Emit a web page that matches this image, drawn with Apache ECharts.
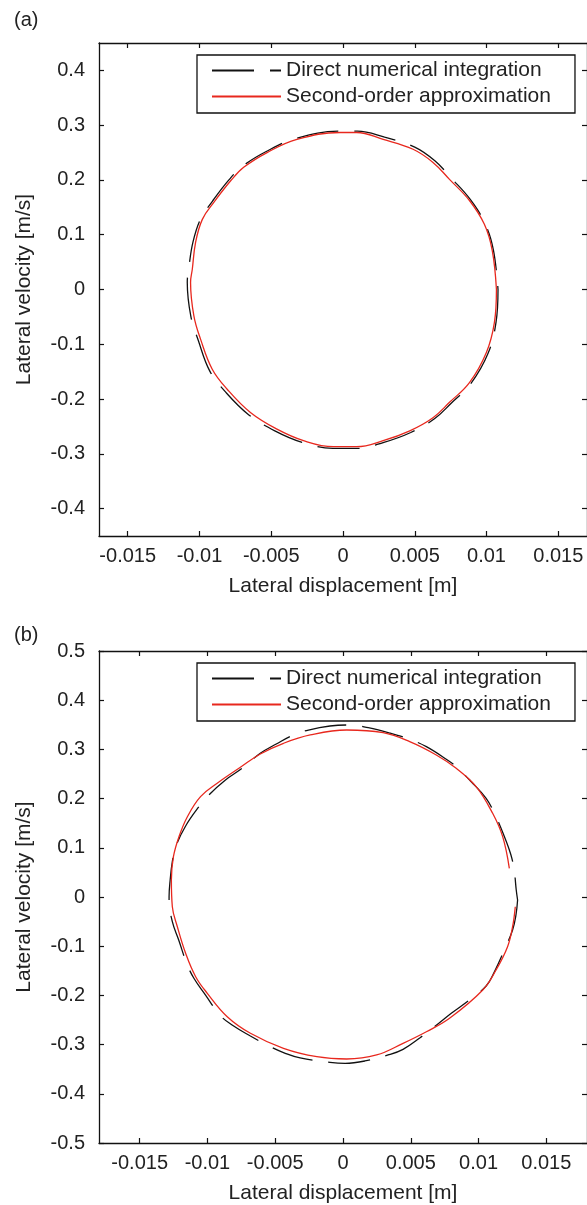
<!DOCTYPE html>
<html>
<head>
<meta charset="utf-8">
<script src="https://cdn.jsdelivr.net/npm/echarts@6/dist/echarts.min.js"></script>
<style>
html,body{margin:0;padding:0;background:#fff;}
#c{width:587px;height:1205px;}
</style>
</head>
<body>
<div id="c"></div>
<script>
// ---------- data ----------
var seriesNames = ['Direct numerical integration', 'Second-order approximation'];
var panelLabels = ['(a)', '(b)'];
var xAxisName = 'Lateral displacement [m]';
var yAxisName = 'Lateral velocity [m/s]';

var xTicksA = [-0.015, -0.01, -0.005, 0, 0.005, 0.01, 0.015];
var yTicksA = [-0.4, -0.3, -0.2, -0.1, 0, 0.1, 0.2, 0.3, 0.4];
var xTicksB = [-0.015, -0.01, -0.005, 0, 0.005, 0.01, 0.015];
var yTicksB = [-0.5, -0.4, -0.3, -0.2, -0.1, 0, 0.1, 0.2, 0.3, 0.4, 0.5];

// panel (a): direct numerical integration [x, v]
var directA = [
  [0.01080, 0.000], [0.01066, -0.060], [0.01010, -0.117], [0.00890, -0.172], [0.00752, -0.208],
  [0.00637, -0.236], [0.00472, -0.261], [0.00285, -0.279], [0.00095, -0.290], [-0.00070, -0.290],
  [-0.00285, -0.279], [-0.00475, -0.258], [-0.00660, -0.228], [-0.00822, -0.186], [-0.00928, -0.149],
  [-0.01008, -0.093], [-0.01060, -0.049], [-0.01085, 0.013], [-0.01075, 0.038], [-0.01045, 0.087],
  [-0.00990, 0.130], [-0.00910, 0.161], [-0.00795, 0.200], [-0.00700, 0.225], [-0.00535, 0.252],
  [-0.00325, 0.276], [-0.00020, 0.289], [0.00100, 0.289], [0.00290, 0.278], [0.00500, 0.260],
  [0.00640, 0.235], [0.00752, 0.204], [0.00888, 0.164], [0.00990, 0.120], [0.01048, 0.072],
  [0.01080, 0.000]
];
// panel (a): second-order approximation [x, v]
var approxA = [
  [0.01069, 0.000], [0.01055, -0.060], [0.00999, -0.115], [0.00881, -0.170], [0.00742, -0.206],
  [0.00627, -0.234], [0.00465, -0.258], [0.00280, -0.276], [0.00095, -0.287], [-0.00067, -0.287],
  [-0.00275, -0.276], [-0.00460, -0.255], [-0.00645, -0.2245], [-0.00807, -0.182], [-0.00911, -0.1455],
  [-0.00992, -0.091], [-0.01039, -0.048], [-0.01062, 0.013], [-0.01050, 0.037], [-0.01027, 0.086],
  [-0.00980, 0.128], [-0.00900, 0.159], [-0.00784, 0.198], [-0.00692, 0.223], [-0.00529, 0.250],
  [-0.00321, 0.274], [-0.00020, 0.2866], [0.00095, 0.2866], [0.00280, 0.274], [0.00488, 0.256],
  [0.00627, 0.232], [0.00742, 0.201], [0.00881, 0.1625], [0.00985, 0.119], [0.01040, 0.071],
  [0.01069, 0.000]
];
// panel (b): direct numerical integration [x, v]
var directB = [
  [0.01288, -0.0061], [0.01276, -0.0366], [0.01251, -0.0671], [0.01190, -0.1077], [0.01117, -0.1518],
  [0.01056, -0.1809], [0.00933, -0.2093], [0.00799, -0.2364], [0.00700, -0.2581], [0.00566, -0.2866],
  [0.00443, -0.3096], [0.00333, -0.3211], [0.00162, -0.3333], [0.00015, -0.3380], [-0.00096, -0.3360],
  [-0.00316, -0.3272], [-0.00426, -0.3177], [-0.00536, -0.3043], [-0.00683, -0.2825], [-0.00818, -0.2602],
  [-0.00909, -0.2398], [-0.01014, -0.1992], [-0.01100, -0.1652], [-0.01153, -0.1348], [-0.01212, -0.0874],
  [-0.01259, -0.0502], [-0.01283, -0.0061], [-0.01283, 0.0006], [-0.01275, 0.0346], [-0.01259, 0.0717],
  [-0.01234, 0.1022], [-0.01161, 0.1443], [-0.01063, 0.1835], [-0.00990, 0.2073], [-0.00867, 0.2378],
  [-0.00744, 0.2616], [-0.00610, 0.2921], [-0.00492, 0.3110], [-0.00365, 0.3293], [-0.00255, 0.3394],
  [-0.00096, 0.3476], [0.00051, 0.3496], [0.00186, 0.3441], [0.00345, 0.3333], [0.00492, 0.3205],
  [0.00615, 0.3055], [0.00762, 0.2799], [0.00835, 0.2648], [0.00948, 0.2337], [0.01056, 0.2006],
  [0.01117, 0.1701], [0.01183, 0.1280], [0.01239, 0.0854], [0.01264, 0.0514], [0.01278, 0.0142],
  [0.01288, -0.0061]
];
// panel (b): second-order approximation [x, v]
var approxB = [
  [0.01271, -0.0197], [0.01251, -0.0604], [0.01214, -0.1010], [0.01129, -0.1484], [0.01031, -0.1890],
  [0.00786, -0.2465], [0.00615, -0.2738], [0.00443, -0.2974], [0.00248, -0.3211], [0.00027, -0.3293],
  [-0.00193, -0.3246], [-0.00439, -0.3075], [-0.00683, -0.2770], [-0.00854, -0.2433], [-0.01001, -0.1957],
  [-0.01087, -0.1620], [-0.01161, -0.1144], [-0.01222, -0.0604], [-0.01259, -0.0197], [-0.01266, 0.0346],
  [-0.01251, 0.0819], [-0.01210, 0.1226], [-0.01148, 0.1632], [-0.01051, 0.2039], [-0.00928, 0.2311],
  [-0.00757, 0.2636], [-0.00610, 0.2907], [-0.00439, 0.3124], [-0.00242, 0.3293], [0.00027, 0.3394],
  [0.00296, 0.3339], [0.00492, 0.3157], [0.00688, 0.2886], [0.00835, 0.2616], [0.00982, 0.2242],
  [0.01104, 0.1701], [0.01178, 0.1226], [0.01227, 0.0583]
];

// ---------- chart ----------
var FONT = "'Liberation Sans', Arial, Helvetica, sans-serif";
var TXT = '#222';
var BLACK = '#111';
var RED = '#e8281e';

var grids = [
  {left: 99, right: 0, top: 43, height: 493},
  {left: 99, right: 0, top: 651, height: 492}
];
var ranges = [
  {xmin: -0.017, xmax: 0.017, ymin: -0.45, ymax: 0.45, xt: xTicksA, yt: yTicksA},
  {xmin: -0.018, xmax: 0.018, ymin: -0.5, ymax: 0.5, xt: xTicksB, yt: yTicksB}
];

function axisBase(extra) {
  var a = {
    type: 'value',
    splitLine: {show: false},
    axisLine: {show: true, onZero: false, lineStyle: {color: BLACK, width: 1.3}},
    axisTick: {show: true, inside: true, length: 5, lineStyle: {color: BLACK, width: 1.2}},
    axisLabel: {show: true, color: TXT, fontFamily: FONT, fontSize: 20},
    nameTextStyle: {color: TXT, fontFamily: FONT, fontSize: 21}
  };
  for (var k in extra) a[k] = extra[k];
  return a;
}

var xAxes = [], yAxes = [], series = [], legends = [], titles = [];
ranges.forEach(function (r, i) {
  xAxes.push(axisBase({
    gridIndex: i, position: 'bottom', min: r.xmin, max: r.xmax,
    name: xAxisName, nameLocation: 'middle', nameGap: 40,
    axisTick: {show: true, inside: true, length: 5, customValues: r.xt, lineStyle: {color: BLACK, width: 1.2}},
    axisLabel: {show: true, customValues: r.xt, margin: 10, color: TXT, fontFamily: FONT, fontSize: 20,
      formatter: function (v) { return String(+v.toFixed(4)); }}
  }));
  xAxes.push(axisBase({
    gridIndex: i, position: 'top', min: r.xmin, max: r.xmax,
    axisTick: {show: true, inside: true, length: 5, customValues: r.xt, lineStyle: {color: BLACK, width: 1.2}},
    axisLabel: {show: false}
  }));
  yAxes.push(axisBase({
    gridIndex: i, position: 'left', min: r.ymin, max: r.ymax,
    name: yAxisName, nameLocation: 'middle', nameGap: 64, nameRotate: 90,
    axisTick: {show: true, inside: true, length: 5, customValues: r.yt, lineStyle: {color: BLACK, width: 1.2}},
    axisLabel: {show: true, customValues: r.yt, margin: 14, color: TXT, fontFamily: FONT, fontSize: 20,
      formatter: function (v) { return String(+v.toFixed(3)); }}
  }));
  yAxes.push(axisBase({
    gridIndex: i, position: 'right', min: r.ymin, max: r.ymax,
    axisTick: {show: true, inside: true, length: 5, customValues: r.yt, lineStyle: {color: BLACK, width: 1.2}},
    axisLabel: {show: false}
  }));
  titles.push({
    text: panelLabels[i], left: 9, top: i === 0 ? 5 : 620,
    textStyle: {fontFamily: FONT, fontSize: 20, fontWeight: 'normal', color: TXT}
  });
  legends.push({
    data: seriesNames, orient: 'vertical', left: 197, top: i === 0 ? 55 : 663,
    padding: [5, 24, 6, 14], itemGap: 5, itemWidth: 69, itemHeight: 14,
    backgroundColor: '#fff', borderColor: BLACK, borderWidth: 1.3, borderRadius: 0,
    selectedMode: false,
    itemStyle: {color: 'rgba(0,0,0,0)', borderColor: 'rgba(0,0,0,0)', borderWidth: 0, opacity: 0},
    textStyle: {fontFamily: FONT, fontSize: 21, color: TXT, lineHeight: 21}
  });
});

var curveSets = [[directA, approxA], [directB, approxB]];
curveSets.forEach(function (pair, i) {
  series.push({
    name: seriesNames[0], type: 'line', xAxisIndex: i * 2, yAxisIndex: i * 2,
    data: pair[0], symbol: 'none', showSymbol: false, smooth: 0.4, animation: false,
    lineStyle: {color: BLACK, width: 1.3, type: [42, 16]},
    itemStyle: {color: BLACK}, z: 2
  });
  series.push({
    name: seriesNames[1], type: 'line', xAxisIndex: i * 2, yAxisIndex: i * 2,
    data: pair[1], symbol: 'none', showSymbol: false, smooth: 0.4, animation: false,
    lineStyle: {color: RED, width: 1.3},
    itemStyle: {color: RED}, z: 3
  });
});

var chart = echarts.init(document.getElementById('c'), null, {renderer: 'canvas'});
chart.setOption({
  animation: false,
  backgroundColor: '#fff',
  title: titles,
  grid: grids,
  xAxis: xAxes,
  yAxis: yAxes,
  legend: legends,
  series: series
});
</script>
</body>
</html>
